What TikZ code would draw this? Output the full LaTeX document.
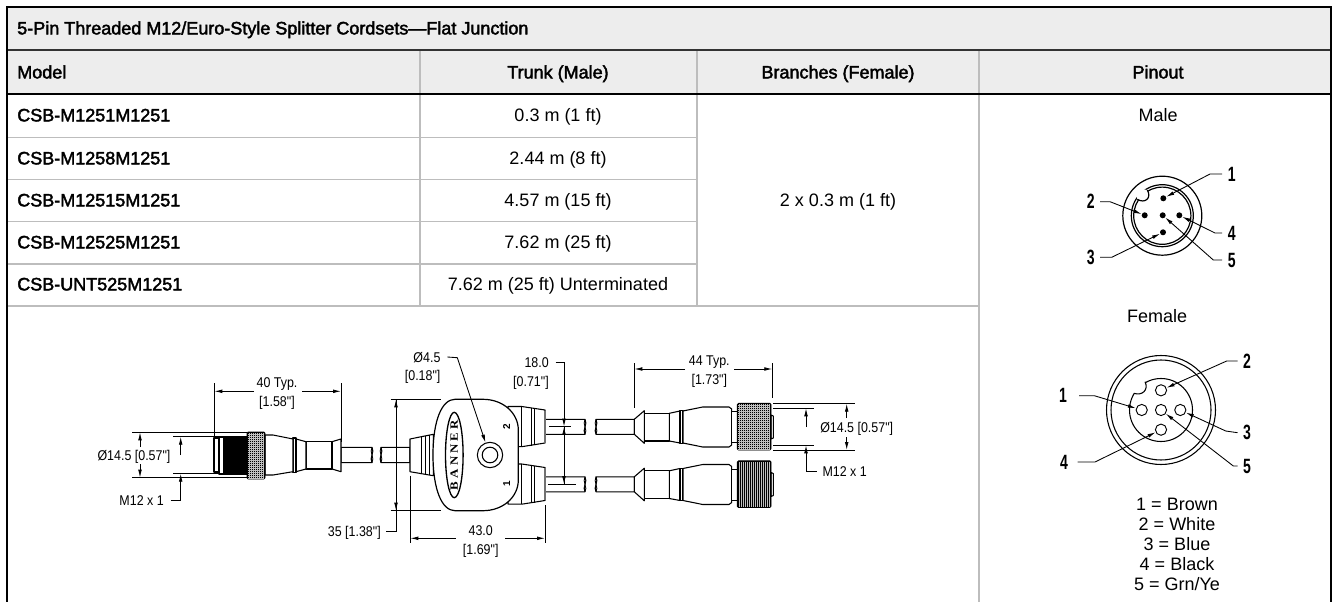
\documentclass[tikz,border=0pt]{standalone}
\usepackage{fontspec}
\setmainfont{Liberation Sans}
\newfontfamily\headfont[FakeBold=2.2]{Liberation Sans}
\newfontfamily\dimfont[FakeStretch=0.88]{Liberation Sans}
\newfontfamily\pinfont[FakeStretch=0.68]{Liberation Sans}
\newfontfamily\logofont[LetterSpace=28,FakeStretch=1.15]{Liberation Serif}
\usetikzlibrary{arrows.meta,shapes.geometric}
\definecolor{headgray}{HTML}{EDEDED}
\definecolor{rulegray}{HTML}{BDBDBD}

\begin{document}
\begin{tikzpicture}[
x=.75pt, y=-.75pt,
head/.style={font=\headfont\fontsize{13.5}{15}\selectfont, inner sep=0pt, text height=9.6pt, text depth=0pt},
cell/.style={font=\fontsize{13.5}{15}\selectfont, inner sep=0pt, text height=9.6pt, text depth=0pt},
dim/.style={font=\dimfont\fontsize{10.6}{12}\selectfont, inner sep=0pt, text height=7.6pt, text depth=0pt},
pinno/.style={font=\pinfont\bfseries\fontsize{15.5}{16}\selectfont, inner sep=0pt},
pindot/.style={circle, fill=black, inner sep=0pt, minimum size=4.5pt},
pinhole/.style={circle, draw, line width=.7pt, inner sep=0pt, minimum size=8.4pt},
rule/.style={rulegray, line width=1.1pt},
part/.style={line width=.8pt, fill=white, line join=round},
knurl/.style={line width=.7pt, fill=black, rounded corners=1pt},
grain/.style={white!75!black, line width=.17pt},
line/.style={line width=.65pt},
tipline/.style={line width=.65pt, -{Latex[length=6pt,width=2.8pt]}}
]
\useasboundingbox (0,0) rectangle (1338,602);
% table
\fill[headgray] (7,7) rectangle (1331,94);
\foreach \y in {137.3,179.7,221.7,264}
	\draw[rule] (7,\y) -- (697,\y);
\draw[rule] (7,306) -- (979,306);
\draw[rule] (420,50) -- (420,306);
\draw[rule] (697,50) -- (697,306);
\draw[rule] (979,50) -- (979,602);
\draw[black!80, line width=1.5pt] (7,50) -- (1331,50);
\draw[line width=1.8pt] (7,94) -- (1331,94);
\draw[line width=1.8pt] (7,602) -- (7,7) -- (1331,7) -- (1331,602);

\node[head, anchor=west] (title) at (17,28) {5-Pin Threaded M12/Euro-Style Splitter Cordsets—Flat Junction};
\node[head, anchor=west] (model) at (17,72) {Model};
\node[head] (trunk) at (558,72) {Trunk (Male)};
\node[head] (branches) at (838,72) {Branches (Female)};
\node[head] (pinout) at (1158,72) {Pinout};
\foreach \i/\y/\m/\t in {1/115/CSB-M1251M1251/0.3 m (1 ft),
	2/158/CSB-M1258M1251/2.44 m (8 ft),
	3/200/CSB-M12515M1251/4.57 m (15 ft),
	4/242/CSB-M12525M1251/7.62 m (25 ft),
	5/284/CSB-UNT525M1251/7.62 m (25 ft) Unterminated}
{
	\node[head, anchor=west] (model\i) at (17,\y) {\m};
	\node[cell] (trunk\i) at (558,\y) {\t};
}
\node[cell] (branch) at (838,200) {2 x 0.3 m (1 ft)};
\node[cell] (male) at (1158,115) {Male};
\node[cell] (female) at (1157,316) {Female};
\node[align=center, inner sep=0pt, font=\fontsize{13.5}{15}\selectfont] (colors) at (1177,544) {1 = Brown\\2 = White\\3 = Blue\\4 = Black\\5 = Grn/Ye};

% left plug
\draw[part] (341,447.3) -- (372,447.3) .. controls (375,452) and (369,458) .. (372,462.7) -- (341,462.7) -- cycle;
\draw[line] (372,447.3) .. controls (369,452) and (375,458) .. (372,462.7);
\draw[part] (332,441.7) -- (332,469) -- (341,471.7) -- (341,462.7) -- (341,447.3) -- (341,439) -- cycle;
\draw[part] (306,441.7) rectangle (332,469);
\draw[part] (296,439) -- (306,441.7) -- (306,469) -- (296,471.7) -- cycle;
\draw[part] (293,438) rectangle (296,472.5);
\draw[part] (265,435) -- (273,435) -- (293,439) -- (293,471.7) -- (273,475) -- (265,475) -- cycle;
\draw[part] (214,438) rectangle (219,472);
\draw[part] (219,437) rectangle (247,474);
\foreach \x in {224,226,...,246}
	\draw[line width=1.1pt] (\x,436) -- (\x,475);
\draw[knurl] (247,432) rectangle (265,479);
\foreach \x in {249,251,...,263}
	\draw[grain] (\x,433) -- (\x,478);
\foreach \y in {434,436,...,478}
	\draw[grain] (248,\y) -- (264,\y);

% second cable and trunk socket
\draw[part] (410,447.3) -- (381,447.3) .. controls (384,452) and (378,458) .. (381,462.7) -- (410,462.7) -- cycle;
\draw[line] (381,447.3) .. controls (378,452) and (384,458) .. (381,462.7);
\draw[part] (410,439) -- (433.3,434.3) -- (433.3,475.7) -- (410,471.7) -- cycle;
\draw[line] (421.7,436.5) -- (421.7,473.5) (425,436) -- (425,474) (429,435) -- (429,475);

% branch sockets
\foreach \dy in {0,57.5}
{
	\begin{scope}[shift={(0,\dy)}]
	\draw[part] (545,419.3) -- (585,419.3) .. controls (588,424) and (582,430) .. (585,434.3) -- (545,434.3) -- cycle;
	\draw[line] (585,419.3) .. controls (582,424) and (588,430) .. (585,434.3);
	\draw[part] (508,406.5) -- (521.7,406.5) -- (545,410) -- (545,443) -- (521.7,446.7) -- (508,446.7) -- cycle;
	\draw[line] (521.7,406.5) -- (521.7,446.7) (531,408) -- (531,445.5) (534.3,408.5) -- (534.3,445);
	\draw[rulegray!60!black, line width=1.3pt] (545,410.5) -- (545,442.5);
	\draw[part] (596,419.3) .. controls (599,424) and (593,430) .. (596,434.3) -- (634.3,434.3) -- (634.3,419.3) -- cycle;
	\draw[line] (596,419.3) .. controls (593,424) and (599,430) .. (596,434.3);
	% right plug
	\draw[part] (634.3,419.3) -- (644.3,410.7) -- (644.3,443.3) -- (634.3,434.3) -- cycle;
	\draw[part] (644.3,413.3) rectangle (669.3,441);
	\draw[part] (669.3,413.3) -- (680,411) -- (680,443) -- (669.3,441) -- cycle;
	\draw[part] (680,410.7) rectangle (683,443.3);
	\draw[part] (683,411) -- (702.7,407) -- (729,407) -- (731.7,409) -- (731.7,445) -- (729,447) -- (702.7,447) -- (683,443) -- cycle;
	\draw[part] (731.7,411.7) rectangle (737.3,442.7);
	\draw[part] (771,415) -- (773.3,416) -- (773.3,438) -- (771,439) -- cycle;
	\draw[knurl] (737.3,403.3) rectangle (771,450);
	\foreach \x in {739,741,...,769}
		\draw[grain] (\x,404.3) -- (\x,449);
	\end{scope}
}
\foreach \y in {405,407,...,449}
	\draw[grain] (738,\y) -- (770,\y);

% junction body
\draw[part, line width=.9pt] (483,399.3) .. controls (503,399.3) and (518.3,413) .. (518.3,430) -- (518.3,480)
	.. controls (518.3,497) and (503,510.7) .. (483,510.7) -- (455,510.7)
	.. controls (442,510.7) and (433,490) .. (433,455) .. controls (433,420) and (442,399.3) .. (455,399.3) -- cycle;
\node[draw, ellipse, line width=1pt, minimum width=13.2pt, minimum height=64pt, inner sep=0pt] (logo) at (454.3,455) {};
\node[rotate=90, font=\logofont\bfseries\fontsize{8.4}{8}\selectfont, inner sep=0pt] (banner) at (454.3,455) {BANNER};
\node[circle, draw, line width=.8pt, inner sep=0pt, minimum size=19pt] (hole) at (490,455) {};
\node[circle, draw, line width=.8pt, inner sep=0pt, minimum size=11.7pt] (holein) at (490,455) {};
\node[rotate=90, font=\bfseries\fontsize{7.5}{8}\selectfont, inner sep=0pt] (two) at (506.7,426.7) {2};
\node[rotate=90, font=\bfseries\fontsize{7.5}{8}\selectfont, inner sep=0pt] (one) at (506.7,484) {1};

% dimensions, left
\node[dim] (typa) at (277,382.7) {40 Typ.};
\node[dim] (typb) at (277,401.7) {[1.58"]};
\draw[line] (214.3,383) -- (214.3,437) (341,383) -- (341,441.7);
\draw[tipline] (254,391.3) -- (214.3,391.3);
\draw[tipline] (302,391.3) -- (341,391.3);
\node[dim] (diaa) at (134,455) {Ø14.5 [0.57"]};
\draw[line] (132,432.3) -- (247,432.3) (132,477.7) -- (247,477.7);
\draw[tipline] (140,447) -- (140,432.3);
\draw[tipline] (140,464) -- (140,477.7);
\draw[line] (173,436.7) -- (220,436.7) (173,473.7) -- (220,473.7);
\node[dim, anchor=east] (m12a) at (164,500) {M12 x 1};
\draw[tipline] (180.7,455) -- (180.7,436.7);
\draw[tipline] ([xshift=5pt]m12a.east) -- (180.7,500) -- (180.7,473.7);

% dimensions, junction
\node[dim, anchor=east] (bora) at (440.7,357) {Ø4.5};
\node[dim, anchor=east] (borb) at (440.7,375.7) {[0.18"]};
\coordinate (borc) at (457.3,357.7);
\draw[tipline] ([xshift=5pt]bora.east) -- (borc) -- (hole.110);
\node[dim, anchor=east] (pitcha) at (549,362.7) {18.0};
\node[dim, anchor=east] (pitchb) at (549,381.7) {[0.71"]};
\draw[line] (549,426.7) -- (571,426.7) (548,484.2) -- (576,484.2);
\draw[tipline] ([xshift=5pt]pitcha.east) -- (564,362.7) -- (564,426.7);
\draw[line] (564,426.7) -- (564,484.2);
\draw[tipline] (564,440) -- (564,426.7);
\draw[tipline] (564,470) -- (564,484.2);
\draw[line] (390.7,399.3) -- (441,399.3) (390.7,510.7) -- (441,510.7);
\node[dim, anchor=east] (higha) at (381,531.7) {35 [1.38"]};
\draw[line] ([xshift=4pt]higha.east) -- (396,531.7) -- (396,399.3);
\draw[tipline] (396,415) -- (396,399.3);
\draw[tipline] (396,495) -- (396,510.7);
\node[dim] (widea) at (480.7,530) {43.0};
\node[dim] (wideb) at (480.7,549) {[1.69"]};
\draw[line] (410.3,475.7) -- (410.3,543) (545,505) -- (545,543);
\draw[tipline] (455.7,538.3) -- (410.3,538.3);
\draw[tipline] (505,538.3) -- (545,538.3);

% dimensions, right
\node[dim] (typc) at (709.3,360.7) {44 Typ.};
\node[dim] (typd) at (709.3,379.3) {[1.73"]};
\draw[line] (634.3,363.3) -- (634.3,408) (772.3,363.3) -- (772.3,398.3);
\draw[tipline] (685,369) -- (634.3,369);
\draw[tipline] (734,369) -- (772.3,369);
\draw[line] (773,403.7) -- (855,403.7) (773,450) -- (855,450);
\node[dim] (diab) at (856.7,427.7) {Ø14.5 [0.57"]};
\draw[tipline] (846.7,418) -- (846.7,403.7);
\draw[tipline] (846.7,437) -- (846.7,450);
\draw[line] (773,408.3) -- (814,408.3) (773,445.3) -- (814,445.3);
\node[dim, anchor=west] (m12b) at (822.3,471.7) {M12 x 1};
\draw[tipline] (806,427) -- (806,408.3);
\draw[tipline] ([xshift=-4pt]m12b.west) -- (806,471.7) -- (806,445.3);

% male pinout
\draw[line width=.9pt] (1162.3,215.7) circle[radius=39.5];
\draw[line width=.9pt] (1162.3,215.7) circle[radius=31];
\draw[line width=.9pt] (1162.3,215.7) circle[radius=28.6];
\fill[white] (1137.3,199.3) .. controls (1145,204) and (1152,198) .. (1147.3,190) -- (1136,188) -- cycle;
\draw[line width=.9pt] (1137.3,199.3) .. controls (1145,204) and (1152,198) .. (1147.3,190);
\foreach \n/\x/\y in {1/1163.3/198.3,2/1144.7/215.3,3/1163/232.3,4/1179.3/215.3,5/1162.7/215.3}
	\node[pindot] (mp\n) at (\x,\y) {};
\node[pinno] (ml1) at (1231.7,174) {1};
\node[pinno] (ml2) at (1090.7,201.7) {2};
\node[pinno] (ml3) at (1090.7,257.3) {3};
\node[pinno] (ml4) at (1231.7,233) {4};
\node[pinno] (ml5) at (1231.7,260) {5};
\draw[tipline] ([xshift=-4pt]ml1.west) -- (1210,174) -- (mp1);
\draw[tipline] ([xshift=4pt]ml2.east) -- (1110,201.7) -- (mp2);
\draw[tipline] ([xshift=4pt]ml3.east) -- (1111.7,257.3) -- (mp3);
\draw[tipline] ([xshift=-4pt]ml4.west) -- (1215,233) -- (mp4);
\draw[tipline] ([xshift=-4pt]ml5.west) -- (1213.3,260) -- (mp5);

% female pinout
\draw[line width=.8pt] (1161,410) circle[radius=54.5];
\draw[line width=.8pt] (1161,410) circle[radius=50];
\draw[line width=.8pt] (1161,410) circle[radius=31.5];
\fill[white] (1134,393.3) .. controls (1142,396) and (1149,390) .. (1145,381.7) -- (1134,381) -- cycle;
\draw[line width=.8pt] (1134,393.3) .. controls (1142,396) and (1149,390) .. (1145,381.7);
\foreach \n/\x/\y in {2/1161/390.3,1/1141.7/410,5/1161/410,3/1180.3/410,4/1161/429.7}
	\node[pinhole] (fp\n) at (\x,\y) {};
\node[pinno] (fl1) at (1063,395.7) {1};
\node[pinno] (fl4) at (1064,462) {4};
\node[pinno] (fl2) at (1247,361) {2};
\node[pinno] (fl3) at (1247,432.7) {3};
\node[pinno] (fl5) at (1247,466) {5};
\draw[tipline] ([xshift=9pt]fl1.east) -- (1094.3,395.7) -- (fp1);
\draw[tipline] ([xshift=7pt]fl4.east) -- (1095,462) -- (fp4);
\draw[tipline] ([xshift=-4pt]fl2.west) -- (1226.7,361) -- (fp2);
\draw[tipline] ([xshift=-4pt]fl3.west) -- (1225.7,431) -- (fp3);
\draw[tipline] ([xshift=-4pt]fl5.west) -- (1233.3,466) -- (fp5);
\end{tikzpicture}
\end{document}
